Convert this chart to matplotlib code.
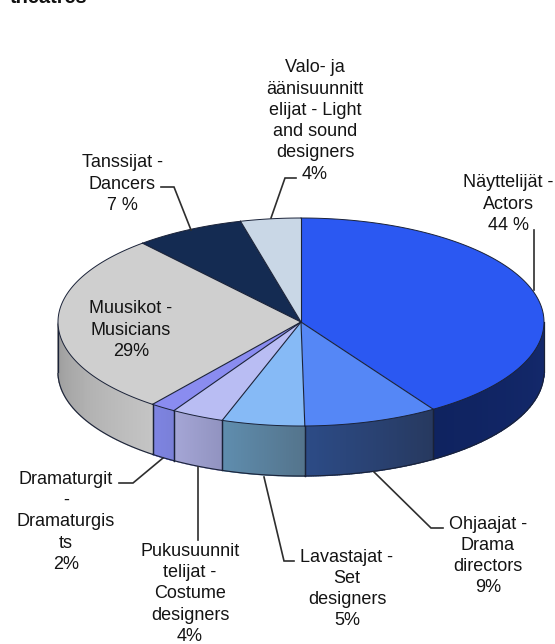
import numpy as np
import matplotlib
matplotlib.use("Agg")
import matplotlib.pyplot as plt
from matplotlib.colors import to_rgb

plt.rcParams['font.family'] = ['Liberation Sans', 'DejaVu Sans']

# Slice shares as they are drawn, clockwise from 12 o'clock
categories = ["Näyttelijät", "Ohjaajat", "Lavastajat", "Pukusuunnittelijat",
              "Dramaturgit", "Muusikot", "Tanssijat", "Valo- ja äänisuunnittelijat"]
shares = [40.8, 8.9, 5.5, 3.5, 1.7, 28.2, 7.3, 4.0]

labels = ["Näyttelijät -\nActors\n44 %",
          "Ohjaajat -\nDrama\ndirectors\n9%",
          "Lavastajat -\nSet\ndesigners\n5%",
          "Pukusuunnit\ntelijat -\nCostume\ndesigners\n4%",
          "Dramaturgit\n-\nDramaturgis\nts\n2%",
          "Muusikot -\nMusicians\n29%",
          "Tanssijat -\nDancers\n7 %",
          "Valo- ja\näänisuunnitt\nelijat - Light\nand sound\ndesigners\n4%"]
label_xy = [(508, 204), (488, 556), (347, 589), (190, 594), (66, 522),
            (131, 330), (122, 184), (315, 121)]

leaders = [[(534, 230), (534, 290)],
           [(443, 528), (431, 528), (374, 472)],
           [(294, 561), (284, 561), (264, 477)],
           [(198, 540), (198, 467)],
           [(119, 483), (133, 483), (163, 458)],
           None,
           [(161, 187), (174, 187), (191, 230)],
           [(296, 178), (285, 178), (271, 218)]]

top_colors = ["#2B58F2", "#5587F6", "#86BAF6", "#B9BDF3", "#8A8CF0",
              "#CFCFCF", "#142B52", "#C9D7E6"]
side_colors = [("#0F2360", "#14296C"), ("#2C4B86", "#27395F"), ("#5F8DAE", "#54748C"),
               ("#A5A6D6", "#9193C0"), ("#7E84E2", "#7A80D8"), ("#9C9C9C", "#C4C4C4"),
               ("#142B52", "#142B52"), ("#C9D7E6", "#C9D7E6")]

cx, cy, rx, ry, depth = 301, 322, 243, 104, 50
edge = "#1A2238"

fig = plt.figure(figsize=(5.55, 6.44), dpi=100)
ax = fig.add_axes([0, 0, 1, 1])
ax.set_xlim(0, 555)
ax.set_ylim(644, 0)
ax.axis("off")


def ell(t):
    return cx + rx * np.cos(t), cy - ry * np.sin(t)


fracs = np.array(shares) / np.sum(shares)
bounds = np.pi / 2 - 2 * np.pi * np.concatenate([[0], np.cumsum(fracs)])

# Sides (only the front half of the rim is visible)
for i in range(len(shares)):
    hi, lo = bounds[i], bounds[i + 1]
    a = np.linspace(hi, lo, 80)
    a = a[np.sin(a) < 0]
    if a.size < 2:
        continue
    c0, c1 = map(np.array, map(to_rgb, side_colors[i]))
    for k in range(a.size - 1):
        x0, y0 = ell(a[k])
        x1, y1 = ell(a[k + 1])
        mix = k / (a.size - 2)
        col = c1 * (1 - mix) + c0 * mix
        ax.fill([x0, x1, x1, x0], [y0, y1, y1 + depth, y0 + depth],
                facecolor=col, edgecolor=col, lw=1.0, zorder=2)
    x, y = ell(a)
    ax.plot(x, y + depth, color=edge, lw=0.8, zorder=3)
    for tb in (hi, lo):
        if np.sin(tb) < 0:
            bx, by = ell(tb)
            ax.plot([bx, bx], [by, by + depth], color=edge, lw=0.9, zorder=3)

# Rim silhouette at the far left and right
for tb in (0.0, np.pi):
    bx, by = ell(tb)
    ax.plot([bx, bx], [by, by + depth], color=edge, lw=0.9, zorder=3)

# Top faces
for i in range(len(shares)):
    a = np.linspace(bounds[i], bounds[i + 1], 120)
    x, y = ell(a)
    ax.fill(np.r_[cx, x, cx], np.r_[cy, y, cy], color=top_colors[i], lw=0, zorder=4)
    ax.plot(x, y, color=edge, lw=0.7, zorder=5)
    bx, by = ell(bounds[i])
    ax.plot([cx, bx], [cy, by], color=edge, lw=0.8, zorder=5)

# Leader lines
for pts in leaders:
    if pts:
        ax.plot(*zip(*pts), color="#2E2E2E", lw=1.2, zorder=6, solid_joinstyle="miter")

# Labels
for text, (x, y) in zip(labels, label_xy):
    ax.text(x, y, text, ha="center", va="center", fontsize=13.0,
            linespacing=1.33, color="#141414", zorder=7)

# Title remnant cut off by the top edge
ax.text(10, 3, "theatres", fontsize=14.4, fontweight="bold", ha="left",
        va="baseline", color="#111111", clip_on=True)

fig.savefig("out.png", dpi=100)
